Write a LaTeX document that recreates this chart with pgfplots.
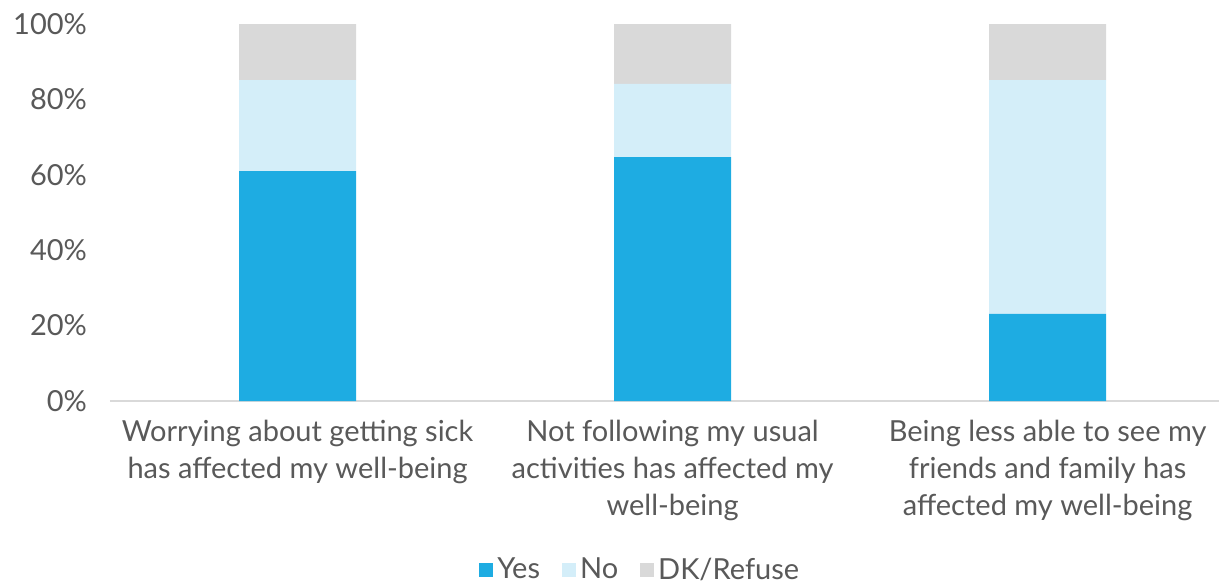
\documentclass[border=0pt]{standalone}
\usepackage{pgfplots}
\pgfplotsset{compat=1.18}
\usepackage{fontspec}
\setmainfont{Lato}
\definecolor{yescol}{HTML}{1EACE2}
\definecolor{nocol}{HTML}{D4EEF9}
\definecolor{dkcol}{HTML}{D9D9D9}
\definecolor{txt}{HTML}{595959}
\begin{document}
\begin{tikzpicture}
\useasboundingbox (-55pt,-92.5pt) rectangle (554.5pt,200.5pt);
\begin{axis}[
  at={(0,0)}, anchor=south west,
  width=554.5pt, height=188.5pt, scale only axis,
  ybar stacked, bar width=58.5pt,
  xmin=-0.5, xmax=2.457, ymin=0, ymax=100,
  axis x line*=bottom, axis y line*=left,
  x axis line style={draw=dkcol, line width=1pt, -},
  y axis line style={draw=none},
  xtick=data, xtick style={draw=none},
  xticklabels={{Worrying about getting sick\\has affected my well-being},
               {Not following my usual\\activities has affected my\\well-being},
               {Being less able to see my\\friends and family has\\affected my well-being}},
  xticklabel style={align=center, text=txt, font=\fontsize{14.5}{18.5}\selectfont, anchor=north, yshift=-6pt},
  ytick={0,20,40,60,80,100},
  yticklabels={0\%,20\%,40\%,60\%,80\%,100\%},
  yticklabel style={text=txt, font=\fontsize{14.5}{16}\selectfont, anchor=east, xshift=-8pt},
  ytick style={draw=none},
  clip=false,
  legend style={at={(0.479,-0.448)}, anchor=center, draw=none, legend columns=-1,
     font=\fontsize{14.5}{16}\selectfont, text=txt, inner sep=1pt,
     /tikz/every even column/.append style={column sep=9pt}},
  legend image code/.code={\fill[#1] (0pt,-3.5pt) rectangle (7pt,3.5pt);},
]
\addplot[fill=yescol, draw=none] coordinates {(0,61) (1,64.7) (2,23.1)};
\addplot[fill=nocol, draw=none] coordinates {(0,24.1) (1,19.4) (2,62)};
\addplot[fill=dkcol, draw=none] coordinates {(0,14.9) (1,15.9) (2,14.9)};
\legend{Yes,No,DK/Refuse}
\end{axis}
\end{tikzpicture}
\end{document}
